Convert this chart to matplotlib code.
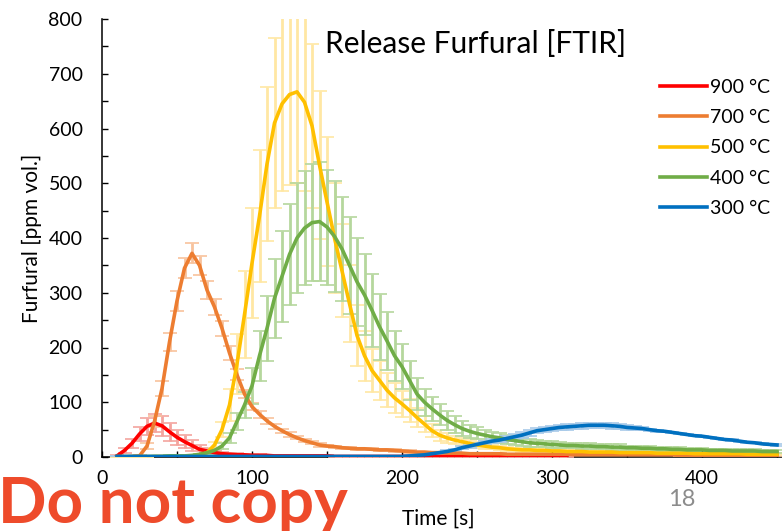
import matplotlib
matplotlib.use("Agg")
import matplotlib.pyplot as plt
from matplotlib.ticker import MultipleLocator
import numpy as np

plt.rcParams['font.family'] = ['Lato', 'DejaVu Sans']

nan = np.nan

# sampling grid of the FTIR trace, 10 s .. 450 s every 5 s
time_s = np.arange(10, 451, 5)

labels = ['900 °C', '700 °C', '500 °C', '400 °C', '300 °C']
colors = ['#FF0000', '#ED7D31', '#FFC000', '#70AD47', '#0070C0']
err_colors = ['#F4A49E', '#F8C29C', '#FFE7A3', '#B5D79D', '#A8CAE9']

furfural_900 = [
    2, 12, 25, 42, 56, 62, 57, 46, 36, 28,
    21, 14, 11, 8, 6, 5, 4, 4, 3, 3,
    3, 2, 2, 2, 2, 2, 2, 2, 2, 1,
    1, 1, 1, 1, 1, 1, 1, 1, 1, 1,
    1, 1, 1, 1, 1, 1, 1, 1, 1, 1,
    1, 1, 1, 1, 1, 1, 1, 1, 1, 1,
    1, nan, nan, nan, nan, nan, nan, nan, nan, nan,
    nan, nan, nan, nan, nan, nan, nan, nan, nan, nan,
    nan, nan, nan, nan, nan, nan, nan, nan, nan,
]
std_900 = [
    1, 4, 8, 12, 15, 17, 18, 16, 14, 12,
    10, 8, 6, 5, 4, 3, 3, 2, 2, 2,
    1, 1, 1, 1, 1, 1, 1, 1, 1, 1,
    1, 1, 1, 1, 1, 1, 1, 1, 1, 1,
    1, 1, 1, 1, 1, 1, 1, 1, 1, 1,
    1, 1, 1, 1, 1, 1, 1, 1, 1, 1,
    1, nan, nan, nan, nan, nan, nan, nan, nan, nan,
    nan, nan, nan, nan, nan, nan, nan, nan, nan, nan,
    nan, nan, nan, nan, nan, nan, nan, nan, nan,
]

furfural_700 = [
    0, 0, 1, 2, 20, 65, 125, 210, 285, 345,
    372, 350, 305, 274, 235, 190, 150, 115, 92, 78,
    66, 56, 48, 41, 35, 30, 26, 22, 20, 19,
    17, 16, 15, 15, 14, 13, 13, 12, 11, 10,
    9, 9, 8, 8, 7, 7, 7, 6, 6, 6,
    6, 6, 5, 5, 5, 5, 5, 5, 5, 5,
    5, 4, 4, 4, 4, 4, 4, 4, 4, 4,
    4, 4, 4, 4, 4, 3, 3, 3, 3, 3,
    3, 3, 3, 3, 3, 3, 3, 3, 3,
]
std_700 = [
    0, 0, 1, 2, 5, 10, 14, 16, 18, 18,
    18, 17, 16, 15, 14, 12, 10, 8, 7, 6,
    5, 5, 4, 4, 3, 3, 3, 3, 2, 2,
    2, 2, 2, 2, 2, 2, 2, 2, 2, 2,
    1, 1, 1, 1, 1, 1, 1, 1, 1, 1,
    1, 1, 1, 1, 1, 1, 1, 1, 1, 1,
    1, 1, 1, 1, 1, 1, 1, 1, 1, 1,
    1, 1, 1, 1, 1, 1, 1, 1, 1, 1,
    1, 1, 1, 1, 1, 1, 1, 1, 1,
]

furfural_500 = [
    0, 0, 0, 0, 0, 1, 1, 1, 1, 1,
    2, 3, 8, 22, 50, 95, 170, 260, 354, 440,
    535, 610, 645, 662, 667, 648, 605, 533, 466, 400,
    340, 280, 222, 185, 158, 140, 122, 108, 97, 85,
    72, 60, 48, 40, 35, 31, 28, 25, 22, 20,
    18, 17, 15, 14, 13, 13, 12, 12, 11, 11,
    10, 10, 10, 9, 9, 9, 9, 8, 8, 8,
    8, 8, 7, 7, 7, 7, 7, 6, 6, 6,
    6, 6, 6, 6, 5, 5, 5, 5, 5,
]
std_500 = [
    0, 0, 0, 0, 0, 0, 0, 0, 0, 0,
    0, 1, 2, 6, 14, 30, 55, 80, 100, 120,
    140, 155, 160, 165, 167, 162, 150, 135, 118, 100,
    85, 70, 56, 46, 40, 35, 31, 27, 24, 21,
    18, 15, 12, 10, 9, 8, 7, 6, 5, 5,
    4, 4, 4, 3, 3, 3, 3, 3, 3, 3,
    2, 2, 2, 2, 2, 2, 2, 2, 2, 2,
    2, 2, 2, 2, 2, 2, 2, 2, 2, 2,
    2, 2, 2, 2, 2, 2, 2, 2, 2,
]

furfural_400 = [
    1, 1, 1, 1, 1, 1, 1, 2, 2, 2,
    3, 5, 8, 12, 20, 35, 65, 95, 130, 185,
    235, 290, 330, 370, 400, 418, 428, 430, 420, 403,
    380, 350, 320, 296, 268, 238, 212, 185, 165, 140,
    115, 100, 88, 77, 67, 59, 52, 47, 43, 40,
    37, 35, 32, 30, 28, 26, 25, 24, 23, 22,
    21, 21, 20, 20, 19, 19, 18, 18, 17, 17,
    16, 16, 15, 15, 14, 14, 13, 13, 13, 12,
    12, 12, 11, 11, 11, 11, 10, 10, 10,
]
std_400 = [
    0, 0, 0, 0, 0, 0, 0, 1, 1, 1,
    1, 1, 2, 3, 5, 9, 16, 24, 33, 46,
    59, 72, 83, 93, 100, 104, 107, 108, 105, 101,
    95, 88, 80, 74, 67, 60, 53, 46, 41, 35,
    29, 25, 22, 19, 17, 15, 13, 12, 11, 10,
    9, 9, 8, 8, 7, 7, 6, 6, 6, 6,
    5, 5, 5, 5, 5, 5, 5, 5, 4, 4,
    4, 4, 4, 4, 4, 4, 3, 3, 3, 3,
    3, 3, 3, 3, 3, 3, 3, 3, 3,
]

furfural_300 = [
    1, 1, 1, 1, 1, 1, 1, 1, 1, 1,
    1, 1, 1, 1, 1, 1, 1, 1, 1, 1,
    1, 1, 1, 1, 1, 1, 1, 1, 1, 1,
    1, 1, 1, 1, 1, 1, 1, 1, 1, 2,
    3, 4, 6, 8, 10, 13, 17, 20, 23, 26,
    29, 31, 34, 37, 40, 44, 48, 50, 52, 54,
    55, 56, 57, 58, 58, 58, 57, 56, 54, 53,
    52, 50, 48, 47, 45, 43, 41, 39, 38, 36,
    34, 32, 31, 29, 27, 26, 24, 23, 22,
]
std_300 = [
    0, 0, 0, 0, 0, 0, 0, 0, 0, 0,
    0, 0, 0, 0, 0, 0, 0, 0, 0, 0,
    0, 0, 0, 0, 0, 0, 0, 0, 0, 0,
    0, 0, 0, 0, 0, 0, 0, 0, 0, 1,
    1, 1, 1, 2, 2, 2, 3, 3, 3, 4,
    4, 4, 5, 5, 5, 5, 5, 5, 5, 5,
    5, 5, 5, 5, 5, 5, 5, 4, 4, 3,
    2, 2, 2, 1, 1, 1, 1, 1, 1, 1,
    1, 1, 1, 1, 1, 1, 1, 1, 1,
]

series = [furfural_900, furfural_700, furfural_500, furfural_400, furfural_300]
errors = [std_900, std_700, std_500, std_400, std_300]

fig = plt.figure(figsize=(7.82, 5.31), dpi=100)
ax = fig.add_axes([102 / 782, 1 - 457 / 531, 680 / 782, 438 / 531])

# error bars first, so every mean curve sits on top of them
for y, e, ec in zip(series, errors, err_colors):
    ax.errorbar(time_s, y, yerr=e, fmt='none', ecolor=ec, elinewidth=2.0,
                capsize=5, capthick=1.2, zorder=1)

for i, (y, c, lab) in enumerate(zip(series, colors, labels)):
    ax.plot(time_s, y, color=c, lw=2.6, label=lab, zorder=3 + i)

ax.set_xlim(0, 680 / 1.5)
ax.set_ylim(0, 800)
ax.xaxis.set_major_locator(MultipleLocator(100))
ax.xaxis.set_minor_locator(MultipleLocator(50))
ax.yaxis.set_major_locator(MultipleLocator(100))
ax.yaxis.set_minor_locator(MultipleLocator(50))
ax.tick_params(which='both', direction='in', length=4, width=1, color='black')
ax.tick_params(axis='y', which='major', pad=14, labelsize=14)
ax.tick_params(axis='x', which='major', pad=9, labelsize=14)
for side in ['top', 'right']:
    ax.spines[side].set_visible(False)
for side in ['left', 'bottom']:
    ax.spines[side].set_linewidth(1.1)
    ax.spines[side].set_zorder(0.5)

fig.text(32 / 782, 1 - 238 / 531, 'Furfural [ppm vol.]', rotation=90,
         ha='center', va='center', fontsize=15)
fig.text(438 / 782, 1 - 519 / 531, 'Time [s]', ha='center', va='center', fontsize=15)
fig.text(325 / 782, 1 - 53 / 531, 'Release Furfural [FTIR]', ha='left',
         va='baseline', fontsize=21.5)

ax.legend(loc='upper left', bbox_to_anchor=(660 / 782, 1 - 79 / 531),
          bbox_transform=fig.transFigure, frameon=False, fontsize=14,
          handlelength=2.4, handletextpad=0.18, labelspacing=0.68,
          borderpad=0, borderaxespad=0)

fig.text(-2 / 782, 1 - 523 / 531, 'Do not copy', color='#EE4B2B',
         fontweight='bold', fontsize=46, ha='left', va='baseline')
fig.text(682 / 782, 1 - 499 / 531, '18', color='#8C8C8C', fontsize=17,
         ha='center', va='center')

fig.savefig('out.png', dpi=100)
